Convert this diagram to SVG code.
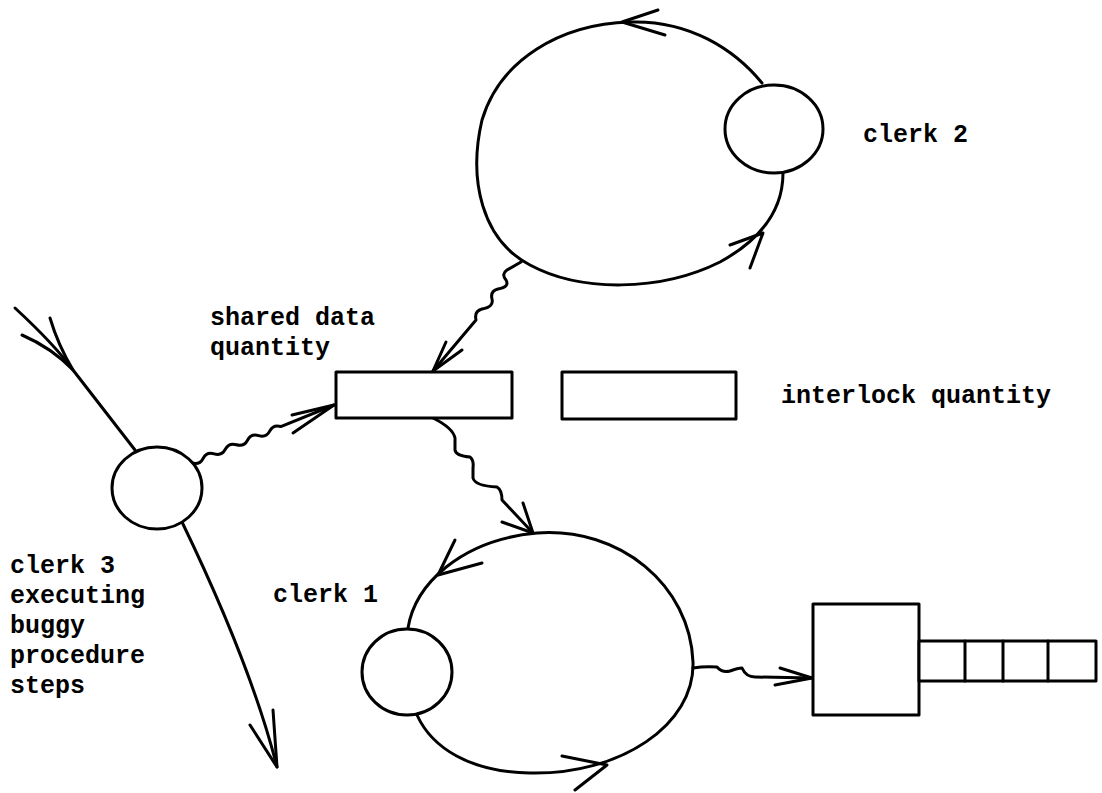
<svg xmlns="http://www.w3.org/2000/svg" width="1102" height="793" viewBox="0 0 1102 793">
<style>
  .ln{fill:none;stroke:#000;stroke-width:3;stroke-linecap:round;stroke-linejoin:round}
  .nd{fill:#fff;stroke:#000;stroke-width:3;stroke-linejoin:round}
  .tx{font-family:"Liberation Mono","Courier New",monospace;font-size:25px;font-weight:bold;fill:#000}
</style>
<rect width="1102" height="793" fill="#fff"/>
<g id="connectors">
  <!-- clerk 2 loop -->
  <path class="ln" d="M762,83 C735,50 690,20 630,22 C560,24 500,60 482,120 C468,180 482,240 530,265 C580,292 660,292 720,262 C760,240 783,210 783,173"/>
  <path class="ln" d="M658,10 L622,22 L665,35"/>
  <path class="ln" d="M730,245 L763,233 L750,268"/>
  <!-- clerk 1 loop -->
  <path class="ln" d="M408,628 C415,585 460,540 537,533 C620,527 690,585 693,662 C695,725 620,775 530,773 C470,772 432,748 417,715"/>
  <path class="ln" d="M455,540 L438,575 L482,563"/>
  <path class="ln" d="M562,756 L607,765 L575,790"/>
  <!-- clerk 3 path -->
  <path class="ln" d="M15,308 Q55,345 73,370 L135,450"/>
  <path class="ln" d="M50,318 Q58,345 73,370 M22,335 Q52,348 73,370"/>
  <path class="ln" d="M182,522 C210,580 255,680 277,767"/>
  <path class="ln" d="M250,725 L277,767 L273,710"/>
  <!-- wavy: clerk 3 -> shared data -->
  <path class="ln" d="M192,463 q7.45,2.32 11.1,-4.56 t11.1,-4.56 t11.1,-4.56 t11.1,-4.56 t11.1,-4.56 t11.1,-4.56 t11.1,-4.56 t11.1,-4.56 L334,405"/>
  <path class="ln" d="M292,415 L334,405 L293,433"/>
  <!-- wavy: clerk 2 -> shared data -->
  <path class="ln" d="M521,262 L507,270 Q501,274 506,280 Q510,287 498,289 Q490,291 492,299 Q494,307 482,309 Q474,311 476,320 L433,371"/>
  <path class="ln" d="M446,342 L433,371 L462,350"/>
  <!-- wavy: shared data -> clerk 1 -->
  <path class="ln" d="M433,418 Q453,428 455,438 L455,450 Q456,456 470,457 Q474,460 473,468 L473,478 Q475,486 497,487 Q502,490 502,500 L533,533"/>
  <path class="ln" d="M523,503 L533,533 L502,522"/>
  <!-- wavy: clerk 1 -> box -->
  <path class="ln" d="M693,668 Q705,666 717,667 Q722,673 730,671 Q738,668 742,668 Q746,677 755,677 L812,678"/>
  <path class="ln" d="M780,668 L812,678 L775,685"/>
</g>
<g id="clerk2">
  <ellipse class="nd" cx="774" cy="129" rx="49" ry="44"/>
  <text class="tx" x="863" y="142">clerk 2</text>
</g>
<g id="clerk1">
  <ellipse class="nd" cx="407" cy="672" rx="45" ry="43"/>
  <text class="tx" x="273" y="602">clerk 1</text>
</g>
<g id="clerk3">
  <ellipse class="nd" cx="157" cy="488" rx="45" ry="41"/>
  <text class="tx" x="10" y="573">clerk 3</text>
  <text class="tx" x="10" y="603">executing</text>
  <text class="tx" x="10" y="633">buggy</text>
  <text class="tx" x="10" y="663">procedure</text>
  <text class="tx" x="10" y="693">steps</text>
</g>
<g id="shared-data">
  <rect class="nd" x="336" y="372" width="176" height="46"/>
  <text class="tx" x="210" y="325">shared data</text>
  <text class="tx" x="210" y="355">quantity</text>
</g>
<g id="interlock">
  <rect class="nd" x="562" y="372" width="174" height="47"/>
  <text class="tx" x="781" y="403">interlock quantity</text>
</g>
<g id="queue-box">
  <rect class="nd" x="813" y="604" width="106" height="111"/>
  <rect class="nd" x="919" y="641" width="177" height="40"/>
  <path class="ln" d="M965,641 V681 M1003,641 V681 M1048,641 V681"/>
</g>
</svg>
